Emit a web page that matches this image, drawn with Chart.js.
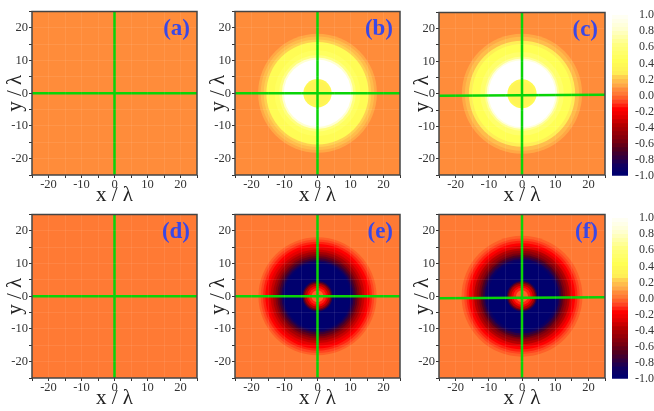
<!DOCTYPE html>
<html>
<head>
<meta charset="utf-8">
<script src="https://cdn.jsdelivr.net/npm/chart.js@4/dist/chart.umd.min.js"></script>
<style>
  html, body { margin: 0; padding: 0; background: #fff; }
  body { position: relative; width: 654px; height: 411px; overflow: hidden; }
  canvas { position: absolute; }
</style>
</head>
<body>
<script>
  "use strict";

  const PANEL_NAMES = ["(a)", "(b)", "(c)", "(d)", "(e)", "(f)"];
  const AXIS_TICKS = [-20, -10, 0, 10, 20];
  const BAR_TICKS = [-1, -0.8, -0.6, -0.4, -0.2, 0, 0.2, 0.4, 0.6, 0.8, 1];

  // concentric bands, outermost first: radius (in lambda) and field value
  const radiiA = [36];
  const valuesA = [0.05];
  const radiiB = [36, 18, 17.2, 16.3, 15.5, 13, 11.6, 10.8, 10.2, 4.3, 3.6];
  const valuesB = [0.05, 0.1, 0.15, 0.2, 0.37, 0.45, 0.6, 0.8, 1, 0.33, 0.29];
  const radiiC = [36, 18.1, 17.2, 16, 15, 12.6, 11.2, 10.6, 10.1, 4.4, 3.7];
  const valuesC = [0.05, 0.1, 0.15, 0.25, 0.4, 0.5, 0.65, 0.85, 1, 0.35, 0.3];
  const radiiD = [36];
  const valuesD = [0];
  const radiiE = [36, 17.9, 17.2, 16.5, 15.8, 15, 14.2, 13.5, 12.8, 12.2, 11.6, 11, 10.5, 10, 4.6, 4.2, 3.8, 3.2, 2.6, 1.8];
  const valuesE = [0, -0.05, -0.1, -0.15, -0.2, -0.28, -0.36, -0.45, -0.55, -0.65, -0.75, -0.85, -0.95, -1, -0.8, -0.6, -0.4, -0.25, -0.15, -0.05];
  const radiiF = [36, 18.2, 17.4, 16.7, 16, 15.2, 14.4, 13.7, 13, 12.4, 11.8, 11.2, 10.7, 10.3, 4.6, 4.2, 3.8, 3.2, 2.6, 1.8];
  const valuesF = [0, -0.05, -0.1, -0.15, -0.2, -0.3, -0.4, -0.5, -0.6, -0.7, -0.8, -0.9, -0.95, -1, -0.8, -0.6, -0.4, -0.25, -0.15, -0.05];

  // the green cross: y of the horizontal line at x = -25 and x = 25
  const crossA = [0, 0];
  const crossB = [0, 0];
  const crossC = [-0.6, -0.3];
  const crossD = [0, 0];
  const crossE = [0, 0];
  const crossF = [-0.6, -0.3];

  const BAR_LEVELS = [-1, -0.95, -0.9, -0.85, -0.8, -0.75, -0.7, -0.65, -0.6, -0.55, -0.5, -0.45, -0.4, -0.35, -0.3, -0.25, -0.2, -0.15, -0.1, -0.05, 0, 0.05, 0.1, 0.15, 0.2, 0.25, 0.3, 0.35, 0.4, 0.45, 0.5, 0.55, 0.6, 0.65, 0.7, 0.75, 0.8, 0.85, 0.9, 0.95, 1];

  const COLOR_STOPS = [
    [-1, [0, 0, 110]], [-0.9, [16, 0, 96]], [-0.8, [48, 0, 64]], [-0.7, [80, 0, 32]],
    [-0.6, [120, 0, 16]], [-0.4, [180, 0, 0]], [-0.3, [224, 0, 0]], [-0.2, [255, 0, 0]],
    [-0.1, [255, 69, 32]], [-0.05, [255, 96, 40]], [0, [255, 122, 52]], [0.05, [255, 140, 58]],
    [0.1, [255, 168, 69]], [0.2, [255, 208, 80]], [0.25, [255, 238, 85]], [0.4, [255, 255, 85]],
    [0.6, [255, 255, 128]], [0.8, [255, 255, 208]], [1, [255, 255, 255]],
  ];

  const FONT = "'Liberation Serif', serif";

  function levelColor(v) {
    let i = 0;
    while (i < COLOR_STOPS.length - 2 && v > COLOR_STOPS[i + 1][0]) i++;
    const [a, ca] = COLOR_STOPS[i];
    const [b, cb] = COLOR_STOPS[i + 1];
    const t = (v - a) / (b - a);
    return `rgb(${ca.map((c, k) => Math.round(c + (cb[k] - c) * t)).join(",")})`;
  }

  const framePlugin = {
    id: "frame",
    afterDraw(chart, args, opts) {
      const { ctx, chartArea: a } = chart;
      ctx.save();
      ctx.strokeStyle = "#444";
      ctx.lineWidth = 1.5;
      ctx.strokeRect(a.left, a.top, a.right - a.left, a.bottom - a.top);
      ctx.fillStyle = "#3a48e6";
      ctx.font = `bold 23px ${FONT}`;
      ctx.textAlign = "right";
      ctx.textBaseline = "alphabetic";
      ctx.fillText(opts.name, a.right - 7, a.top + 23);
      ctx.restore();
    },
  };

  function addCanvas(left, top, width, height) {
    const c = document.createElement("canvas");
    c.width = width;
    c.height = height;
    c.style.left = left + "px";
    c.style.top = top + "px";
    document.body.appendChild(c);
    return c;
  }

  function axis(position, title, fixed) {
    return {
      type: "linear",
      position,
      min: -25,
      max: 25,
      title: { display: true, text: title, color: "#222", font: { family: FONT, size: 21 }, padding: 0 },
      grid: {
        // no faint line over the green cross at 0
        color: (c) => (c.tick && c.tick.value === 0 ? "transparent" : "rgba(255,255,255,0.08)"),
        z: 1,
        tickColor: "#333",
        tickLength: 3,
        lineWidth: 1,
      },
      border: { display: false },
      ticks: {
        stepSize: 5,
        autoSkip: false,
        maxRotation: 0,
        padding: position === "bottom" ? -1 : 1,
        color: "#333",
        font: { family: FONT, size: 12.5 },
        callback: (v) => (AXIS_TICKS.includes(v) ? String(v) : ""),
      },
      afterFit(scale) {
        if (position === "bottom") scale.height = fixed;
        else scale.width = fixed;
      },
    };
  }

  function drawPanel(name, left, top, right, bottom, radii, values, cross) {
    const yW = 29;
    const xH = 33;
    const pad = 6;
    const canvas = addCanvas(left - yW, top - pad, right - left + yW + pad, bottom - top + pad + xH);
    const bands = radii.map((rad, i) => ({ x: 0, y: 0, rad, value: values[i], r: 1 }));
    const chart = new Chart(canvas, {
      type: "bubble",
      data: {
        datasets: [
          {
            type: "line",
            order: 0,
            data: [{ x: -25, y: cross[0] }, { x: 25, y: cross[1] }],
            borderColor: "#08d408",
            borderWidth: 2.5,
            pointRadius: 0,
          },
          {
            type: "line",
            order: 0,
            data: [{ x: 0, y: -25 }, { x: 0, y: 25 }],
            borderColor: "#08d408",
            borderWidth: 2.5,
            pointRadius: 0,
          },
          {
            order: 1,
            clip: 0,
            data: bands,
            backgroundColor: (c) => (c.raw ? levelColor(c.raw.value) : "transparent"),
            borderWidth: 0,
          },
        ],
      },
      options: {
        responsive: false,
        animation: false,
        events: [],
        layout: { autoPadding: false, padding: { top: pad, right: pad } },
        plugins: { legend: { display: false }, tooltip: { enabled: false }, frame: { name } },
        scales: { x: axis("bottom", "x / λ", xH), y: axis("left", "y / λ", yW) },
      },
      plugins: [framePlugin],
    });
    // bubble sizes are in pixels, so turn the radii into pixels once the scale exists
    const x = chart.scales.x;
    bands.forEach((b) => { b.r = x.getPixelForValue(b.rad) - x.getPixelForValue(0); });
    chart.update();
  }

  function drawColorBar(top, bottom) {
    const canvas = addCanvas(612, top - 6, 42, bottom - top + 12);
    new Chart(canvas, {
      type: "bar",
      data: {
        labels: [""],
        datasets: BAR_LEVELS.map((v, i) => ({
          data: [[v, i + 1 < BAR_LEVELS.length ? BAR_LEVELS[i + 1] : 1.05]],
          backgroundColor: levelColor(v),
          borderWidth: 0,
          barPercentage: 1,
          categoryPercentage: 1,
          grouped: false,
        })),
      },
      options: {
        responsive: false,
        animation: false,
        events: [],
        layout: { padding: { top: 6, bottom: 6 } },
        plugins: { legend: { display: false }, tooltip: { enabled: false } },
        scales: {
          x: { display: false },
          y: {
            position: "right",
            min: -1,
            max: 1.05,
            grid: { display: false, drawTicks: false },
            border: { display: false },
            ticks: {
              stepSize: 0.2,
              includeBounds: false,
              autoSkip: false,
              padding: 0,
              crossAlign: "far",
              color: "#333",
              font: { family: FONT, size: 12 },
              callback: (v) => (BAR_TICKS.some((t) => Math.abs(t - v) < 1e-6) ? v.toFixed(1) : ""),
            },
            afterFit(scale) { scale.width = 26; },
          },
        },
      },
    });
  }

  drawPanel(PANEL_NAMES[0], 32, 9, 197, 175, radiiA, valuesA, crossA);
  drawPanel(PANEL_NAMES[1], 235, 9, 400, 175, radiiB, valuesB, crossB);
  drawPanel(PANEL_NAMES[2], 439, 10, 605, 175, radiiC, valuesC, crossC);
  drawPanel(PANEL_NAMES[3], 32, 212, 197, 378, radiiD, valuesD, crossD);
  drawPanel(PANEL_NAMES[4], 235, 212, 400, 378, radiiE, valuesE, crossE);
  drawPanel(PANEL_NAMES[5], 439, 212, 605, 378, radiiF, valuesF, crossF);
  drawColorBar(10, 177);
  drawColorBar(213, 380);
</script>
</body>
</html>
